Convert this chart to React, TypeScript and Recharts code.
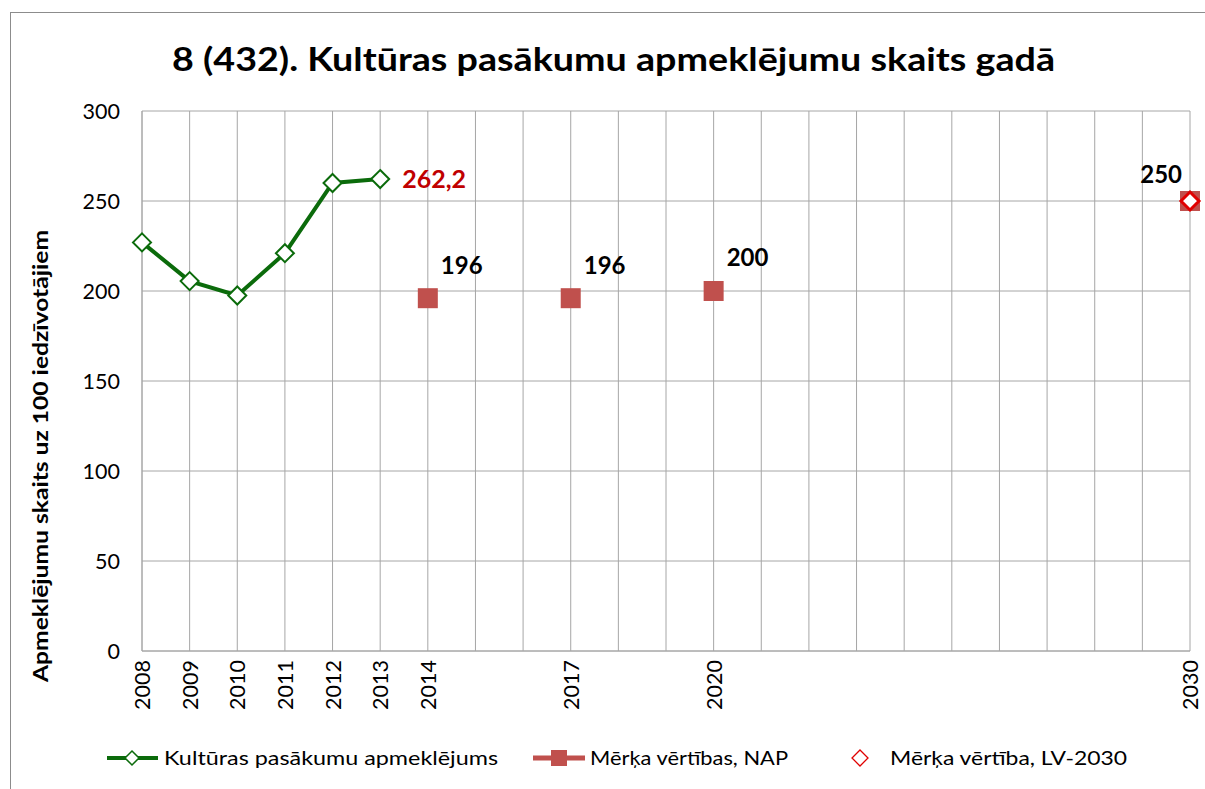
import React from 'react';
import { LineChart, Line, XAxis, YAxis, CartesianGrid, LabelList } from 'recharts';

const years = [
  '2008', '2009', '2010', '2011', '2012', '2013', '2014', '2015', '2016', '2017', '2018', '2019',
  '2020', '2021', '2022', '2023', '2024', '2025', '2026', '2027', '2028', '2029', '2030',
];
const actualValues = [227, 205.5, 197.5, 221, 260, 262.2];
const napYears = ['2014', '2017', '2020', '2030'];
const napValues = [196, 196, 200, 250];
const lvYears = ['2030'];
const lvValues = [250];
const shownYears = ['2008', '2009', '2010', '2011', '2012', '2013', '2014', '2017', '2020', '2030'];
const yTicks = [0, 50, 100, 150, 200, 250, 300];

const data = years.map((year, i) => ({
  year,
  actual: i < actualValues.length ? actualValues[i] : null,
  nap: napYears.includes(year) ? napValues[napYears.indexOf(year)] : null,
  lv: lvYears.includes(year) ? lvValues[lvYears.indexOf(year)] : null,
}));

const FONT = 'Lato, "Open Sans", sans-serif';
const GREEN = '#0B6B0B';
const RED = '#C0504D';
const LV_RED = '#E00000';
const GRID = '#A6A6A6';

const fmt = (v: number) => String(v).replace('.', ',');

const Diamond = ({ cx, cy, r, stroke, sw }: any) => (
  <polygon
    points={`${cx},${cy - r} ${cx + r},${cy} ${cx},${cy + r} ${cx - r},${cy}`}
    fill="#fff"
    stroke={stroke}
    strokeWidth={sw}
  />
);

const greenDot = (props: any) => {
  const { cx, cy, value, index } = props;
  if (value == null || cy == null) return <g key={`g${index}`} />;
  return <Diamond key={`g${index}`} cx={cx} cy={cy} r={9} stroke={GREEN} sw={2} />;
};

const napDot = (props: any) => {
  const { cx, cy, value, index } = props;
  if (value == null || cy == null) return <g key={`n${index}`} />;
  return <rect key={`n${index}`} x={cx - 10} y={cy - 10} width={20} height={20} fill={RED} />;
};

const lvDot = (props: any) => {
  const { cx, cy, value, index } = props;
  if (value == null || cy == null) return <g key={`l${index}`} />;
  return <Diamond key={`l${index}`} cx={cx} cy={cy} r={9} stroke={LV_RED} sw={3} />;
};

const actualLabel = (props: any) => {
  const { x, y, value, index } = props;
  if (value == null || index !== actualValues.length - 1) return null;
  return (
    <text x={x + 22} y={y} dy="0.35em" fill="#C00000" fontSize={25} fontWeight={700} fontFamily={FONT}>
      {fmt(value)}
    </text>
  );
};

const napLabel = (props: any) => {
  const { x, y, value, index } = props;
  if (value == null || index === years.length - 1) return null;
  return (
    <text x={x + 13} y={y - 33} dy="0.35em" fill="#000" fontSize={24} fontWeight={700} fontFamily={FONT}>
      {fmt(value)}
    </text>
  );
};

const lvLabel = (props: any) => {
  const { x, y, value } = props;
  if (value == null) return null;
  return (
    <text x={x - 8} y={y - 26} dy="0.35em" textAnchor="end" fill="#000" fontSize={24} fontWeight={700} fontFamily={FONT}>
      {fmt(value)}
    </text>
  );
};

const XTick = (props: any) => {
  const { x, y, payload } = props;
  if (!shownYears.includes(payload.value)) return <g />;
  return (
    <text
      transform={`translate(${x},${y + 1}) rotate(-90)`}
      textAnchor="end"
      dominantBaseline="central"
      fill="#000"
      fontSize={21.5}
      fontFamily={FONT}
    >
      {payload.value}
    </text>
  );
};

const YTick = (props: any) => {
  const { x, y, payload } = props;
  return (
    <text x={x} y={y} dy="0.35em" textAnchor="end" fill="#000" fontSize={21.5} fontFamily={FONT}>
      {payload.value}
    </text>
  );
};

export default function App() {
  return (
    <div style={{ position: 'absolute', left: 0, top: 0, width: 1205, height: 789, background: '#fff', overflow: 'hidden' }}>
      <div
        style={{
          position: 'absolute', left: 10, top: 12, width: 1210, height: 800,
          border: '1.5px solid #8C8C8C', boxSizing: 'border-box',
        }}
      />
      <svg style={{ position: 'absolute', left: 0, top: 0 }} width={1205} height={100}>
        <text
          x={172}
          y={71}
          textLength={883}
          lengthAdjust="spacingAndGlyphs"
          fontFamily={FONT}
          fontWeight={700}
          fontSize={33}
          fill="#000"
        >
          8 (432). Kultūras pasākumu apmeklējumu skaits gadā
        </text>
      </svg>
      <div style={{ position: 'absolute', left: 0, top: 0 }}>
        <LineChart width={1205} height={789} data={data} margin={{ top: 111, right: 15, bottom: 0, left: 0 }}>
          <CartesianGrid stroke={GRID} strokeWidth={1} vertical horizontal />
          <XAxis
            dataKey="year"
            interval={0}
            height={138}
            tickLine={false}
            axisLine={{ stroke: GRID }}
            tick={<XTick />}
          />
          <YAxis
            width={142}
            domain={[0, 300]}
            ticks={yTicks}
            tickLine={false}
            axisLine={{ stroke: GRID }}
            tickSize={0}
            tickMargin={22}
            tick={<YTick />}
            label={{
              content: () => (
                <text
                  transform="translate(40,456) rotate(-90)"
                  textAnchor="middle"
                  dominantBaseline="central"
                  textLength={452}
                  lengthAdjust="spacingAndGlyphs"
                  fontSize={20}
                  fontWeight={700}
                  fontFamily={FONT}
                  fill="#000"
                >
                  Apmeklējumu skaits uz 100 iedzīvotājiem
                </text>
              ),
            }}
          />
          <Line dataKey="actual" stroke={GREEN} strokeWidth={4} dot={greenDot} activeDot={false} isAnimationActive={false}>
            <LabelList dataKey="actual" content={actualLabel} />
          </Line>
          <Line dataKey="nap" stroke={RED} strokeWidth={4} dot={napDot} activeDot={false} isAnimationActive={false}>
            <LabelList dataKey="nap" content={napLabel} />
          </Line>
          <Line dataKey="lv" stroke="none" dot={lvDot} activeDot={false} isAnimationActive={false}>
            <LabelList dataKey="lv" content={lvLabel} />
          </Line>
        </LineChart>
      </div>
      <svg style={{ position: 'absolute', left: 0, top: 740 }} width={1205} height={36}>
        <g fontFamily={FONT} fontSize={20} fill="#000">
          <line x1={107} y1={18} x2={158} y2={18} stroke={GREEN} strokeWidth={4} />
          <polygon points="132,11 139,18 132,25 125,18" fill="#fff" stroke={GREEN} strokeWidth={1.5} />
          <text x={164} y={18} dy="0.35em" textLength={334} lengthAdjust="spacingAndGlyphs">
            Kultūras pasākumu apmeklējums
          </text>
          <line x1={533} y1={18} x2={585} y2={18} stroke={RED} strokeWidth={5} />
          <rect x={551} y={10} width={16} height={16} fill={RED} />
          <text x={590} y={18} dy="0.35em" textLength={198} lengthAdjust="spacingAndGlyphs">
            Mērķa vērtības, NAP
          </text>
          <polygon points="860,10 868,18 860,26 852,18" fill="#fff" stroke={LV_RED} strokeWidth={1.3} />
          <text x={890} y={18} dy="0.35em" textLength={237} lengthAdjust="spacingAndGlyphs">
            Mērķa vērtība, LV-2030
          </text>
        </g>
      </svg>
    </div>
  );
}
